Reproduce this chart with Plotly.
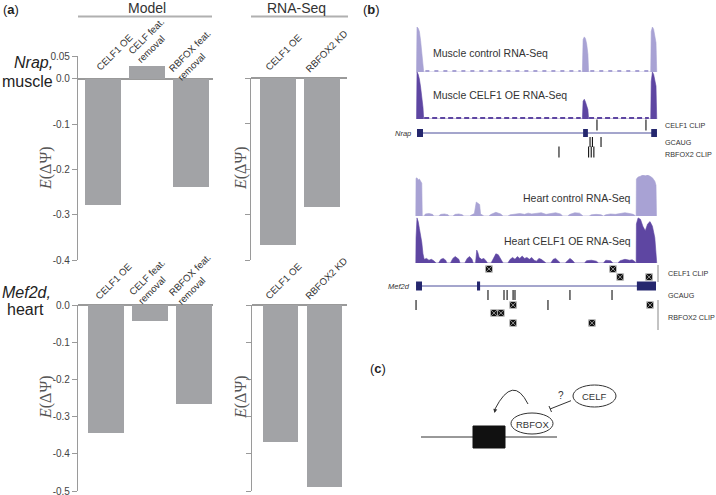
import plotly.graph_objects as go

W, H = 716, 495
def px(x): return x / W
def py(y): return 1 - y / H

# ---------------- DATA ----------------
model_categories = ["CELF1 OE", "CELF feat. removal", "RBFOX feat. removal"]
model_tick_labels = ["CELF1 OE", "CELF feat.<br>removal", "RBFOX feat.<br>removal"]
rnaseq_categories = ["CELF1 OE", "RBFOX2 KD"]
nrap_model = [-0.279, 0.027, -0.238]
nrap_rnaseq = [-0.367, -0.284]
mef2d_model = [-0.343, -0.043, -0.266]
mef2d_rnaseq = [-0.368, -0.488]
top_tick_vals = [0.05, 0.0, -0.1, -0.2, -0.3, -0.4]
top_tick_text = ["0.05", "0.0", "-0.1", "-0.2", "-0.3", "-0.4"]
bot_tick_vals = [0.0, -0.1, -0.2, -0.3, -0.4, -0.5]
bot_tick_text = ["0.0", "-0.1", "-0.2", "-0.3", "-0.4", "-0.5"]

# genome browser (gene units 0..100), coverage normalised 0..1
muscle_ctrl_pos = [-0.2, 0, 0.5, 1, 1.5, 2, 2.5, 2.8, 69.2, 69.5, 70, 70.5, 71, 71.5, 71.8, 97.8, 98, 98.5, 99, 99.5, 100, 100.3]
muscle_ctrl_val = [0, 1.0, 0.97, 0.9, 0.7, 0.45, 0.2, 0, 0, 0.72, 0.78, 0.74, 0.62, 0.4, 0, 0, 0.9, 1.0, 0.95, 0.82, 0.65, 0]
muscle_oe_pos = [-0.2, 0, 0.5, 1, 1.5, 2, 2.5, 2.8, 69.2, 69.5, 70, 70.5, 71, 71.5, 71.8, 97.8, 98, 98.5, 99, 99.5, 100, 100.3]
muscle_oe_val = [0, 1.0, 0.95, 0.85, 0.68, 0.48, 0.25, 0, 0, 0.38, 0.42, 0.36, 0.3, 0.2, 0, 0, 0.8, 1.0, 0.95, 0.85, 0.7, 0]
muscle_intron_start = [3.5, 72.5]
muscle_intron_end = [68.5, 97.0]
muscle_exon_start = [0, 69.5, 98.0]
muscle_exon_end = [2.5, 71.5, 100.4]
muscle_celf1_clip = [75.3, 95.8]
muscle_gcaug = [72.4, 73.4, 77.0]
muscle_rbfox2_clip = [59.4, 71.8, 72.9, 74.0]

heart_ctrl_pos = [-0.5, -0.4, 0, 0.5, 1, 1.5, 2, 2.2, 3, 3.5, 5, 6.5, 7, 9, 10, 11.5, 13, 13.5, 15, 16, 17.5, 19, 19.5,
                  22, 23, 24, 24.8, 25.5, 26.2, 26.6, 27.5, 28, 30, 31, 33, 35, 36, 38, 39, 41, 43, 45, 46.5, 48, 50, 52,
                  54, 56, 58, 60, 61, 63, 64, 66, 68, 69.5, 72, 73, 75, 77, 78, 79, 81, 83, 85, 87, 89, 90.5, 91.5, 91.7,
                  91.8, 92.5, 93.5, 94.5, 95.5, 96.5, 97.5, 98.5, 99.5, 100, 100.2]
heart_ctrl_val = [0, 0.92, 0.93, 0.88, 0.9, 0.85, 0.8, 0, 0, 0.05, 0.06, 0.04, 0, 0, 0.04, 0.05, 0.03, 0, 0, 0.04, 0.05, 0.03, 0,
                  0, 0.04, 0.06, 0.34, 0.3, 0.28, 0.05, 0.03, 0, 0, 0.04, 0.09, 0.05, 0, 0, 0.03, 0.05, 0.06, 0.04, 0.07, 0.05, 0.06, 0.08,
                  0.04, 0.06, 0.08, 0.05, 0, 0, 0.04, 0.08, 0.07, 0, 0, 0.03, 0.04, 0.03, 0, 0.03, 0.05, 0.04, 0.06, 0.08, 0.06, 0.04, 0, 0,
                  0.9, 0.95, 0.97, 1.0, 0.98, 1.0, 0.97, 0.93, 0.85, 0.75, 0]
heart_oe_pos = [-0.5, -0.4, 0, 0.5, 1, 1.5, 2, 2.5, 3, 4, 5, 6, 7, 8, 9, 10, 11, 12, 12.5, 14, 15, 16, 17.5, 18, 20, 21, 22, 23,
                23.5, 24.5, 25, 25.5, 26, 27, 28, 29, 29.5, 31, 32, 33, 34, 35, 36, 38, 39, 40, 41, 42, 43, 44, 45, 46, 47, 48,
                49, 50, 51, 52, 53, 54, 56, 57, 58, 59, 60, 62, 63, 64, 65, 66, 70, 71, 73, 75, 76, 78, 79, 81, 82, 84, 85, 87,
                89, 90, 91, 91.7, 91.8, 92.5, 93.5, 94.5, 95.5, 96.5, 97.5, 98.5, 99.5, 100, 100.3]
heart_oe_val = [0, 0.55, 0.98, 0.9, 0.75, 0.6, 0.45, 0.2, 0.08, 0.1, 0.06, 0.08, 0.05, 0, 0, 0.08, 0.1, 0.06, 0, 0, 0.1, 0.14, 0.08,
                0, 0, 0.1, 0.14, 0.08, 0, 0, 0.28, 0.22, 0.12, 0.08, 0.1, 0.04, 0, 0, 0.12, 0.2, 0.18, 0.1, 0, 0, 0.08, 0.12, 0.08,
                0.14, 0.1, 0.15, 0.1, 0.12, 0.08, 0.12, 0.06, 0.04, 0.1, 0.08, 0.03, 0, 0, 0.08, 0.1, 0.05, 0, 0, 0.06, 0.1, 0.06, 0,
                0, 0.05, 0.06, 0.04, 0, 0, 0.06, 0.05, 0, 0, 0.05, 0.08, 0.06, 0.07, 0.04, 0, 0.85, 0.98, 0.95, 0.8, 0.7, 0.85, 0.9,
                0.8, 0.55, 0.3, 0]
heart_exon_start = [-0.4, 25.1, 92.0]
heart_exon_end = [2.1, 26.4, 100.0]
heart_celf1_clip_pos = [30.1, 82.0, 85.0, 97.1]
heart_celf1_clip_row = [0, 0, 1, 1]
heart_gcaug = [29.7, 36.4, 37.7, 40.2, 41.0, 64.0, 81.6]
heart_rbfox2_line_pos = [-0.4, 54.8]
heart_rbfox2_box_pos = [40.2, 97.5, 32.2, 35.1, 40.2, 73.2]
heart_rbfox2_box_row = [0, 0, 1, 1, 2, 2]

# ---------------- STYLE ----------------
FONT = "Liberation Sans, Arial, sans-serif"
BAR = "#a2a3a6"
AX = "#9a9a9a"
LIGHT = "#a8a2d4"
DARK = "#5e46a2"
NAVY = "#25276e"
GENE_LINE = "#4b4c9a"

fig = go.Figure()

def bars(cats, vals, xa, ya):
    fig.add_trace(go.Bar(x=cats, y=vals, xaxis=xa, yaxis=ya, width=0.8,
                         marker=dict(color=BAR, line=dict(width=0)), showlegend=False,
                         hoverinfo="skip"))

bars(model_categories, nrap_model, "x", "y")
bars(rnaseq_categories, nrap_rnaseq, "x2", "y2")
bars(model_categories, mef2d_model, "x3", "y3")
bars(rnaseq_categories, mef2d_rnaseq, "x4", "y4")

def cat_axis(dom, rng, cats, anchor):
    return dict(domain=[px(dom[0]), px(dom[1])], range=rng, type="category",
                categoryorder="array", categoryarray=cats, anchor=anchor, visible=False,
                showgrid=False, zeroline=False, fixedrange=True, automargin=False)

def val_axis(dom, rng, anchor, tv, tt, labels=True):
    return dict(domain=[py(dom[1]), py(dom[0])], range=rng, anchor=anchor,
                tickvals=tv, ticktext=tt, showticklabels=labels, ticks="outside",
                ticklen=5, tickcolor=AX, tickwidth=1, showline=True, linecolor=AX,
                linewidth=1.2, zeroline=True, zerolinecolor=AX, zerolinewidth=1.5,
                showgrid=False, tickfont=dict(family=FONT, size=10, color="#444"),
                ticklabeloverflow="allow", fixedrange=True, automargin=False)

layout = dict(
    template="none",
    width=W, height=H, margin=dict(l=0, r=0, t=0, b=0, pad=0), autosize=False,
    paper_bgcolor="white", plot_bgcolor="rgba(0,0,0,0)", showlegend=False,
    bargap=0,
    xaxis=cat_axis((78, 213), [-0.568, 2.5], model_categories, "y"),
    yaxis=val_axis((56, 260), [-0.4, 0.05], "x", top_tick_vals, top_tick_text),
    xaxis2=cat_axis((251, 347), [-0.614, 1.568], rnaseq_categories, "y2"),
    yaxis2=val_axis((78, 260), [-0.4, 0.0], "x2", top_tick_vals[1:], top_tick_text[1:], False),
    xaxis3=cat_axis((78, 213), [-0.636, 2.43], model_categories, "y3"),
    yaxis3=val_axis((305, 491), [-0.5, 0.0], "x3", bot_tick_vals, bot_tick_text),
    xaxis4=cat_axis((252, 347), [-0.648, 1.51], rnaseq_categories, "y4"),
    yaxis4=val_axis((305, 491), [-0.5, 0.0], "x4", bot_tick_vals, bot_tick_text, False),
)

# genome browser axes
S = 2.39  # px per gene unit
X0 = 417
hid = dict(visible=False, fixedrange=True, showgrid=False, zeroline=False, automargin=False)
layout["xaxis5"] = dict(domain=[px(380), px(716)], range=[(380 - X0) / S, (716 - X0) / S], anchor="y9", **hid)
layout["yaxis5"] = dict(domain=[py(72), py(27)], range=[0, 1], anchor="x5", **hid)
layout["yaxis6"] = dict(domain=[py(119), py(72)], range=[0, 1], anchor="x5", **hid)
layout["yaxis7"] = dict(domain=[py(216), py(175)], range=[0, 1], anchor="x5", **hid)
layout["yaxis8"] = dict(domain=[py(263), py(217)], range=[0, 1], anchor="x5", **hid)
layout["yaxis9"] = dict(domain=[py(335), py(0)], range=[335, 0], anchor="x5", **hid)

def coverage(pos, val, ya, color):
    fig.add_trace(go.Scatter(x=pos, y=val, xaxis="x5", yaxis=ya, mode="lines", fill="tozeroy",
                             fillcolor=color, line=dict(color=color, width=0.6), hoverinfo="skip",
                             showlegend=False))

coverage(muscle_ctrl_pos, muscle_ctrl_val, "y5", LIGHT)
coverage(muscle_oe_pos, muscle_oe_val, "y6", DARK)
coverage(heart_ctrl_pos, heart_ctrl_val, "y7", LIGHT)
coverage(heart_oe_pos, heart_oe_val, "y8", DARK)

for s, e in zip(muscle_intron_start, muscle_intron_end):
    fig.add_trace(go.Scatter(x=[s, e], y=[0.02, 0.02], xaxis="x5", yaxis="y5", mode="lines",
                             line=dict(color=LIGHT, width=2, dash="4px,5px"), hoverinfo="skip", showlegend=False))
    fig.add_trace(go.Scatter(x=[s - 0.5, e], y=[0.02, 0.02], xaxis="x5", yaxis="y6", mode="lines",
                             line=dict(color=DARK, width=2, dash="5px,3px"), hoverinfo="skip", showlegend=False))

# rows (layout positions, pixel rows on yaxis9)
ROW_M = dict(celf=125, gene=133, gcaug=142, rbfox=152)
ROW_H_CELF = [269, 277]
ROW_H_GENE = 286
ROW_H_GCAUG = 295
ROW_H_RBFOX = [305, 313, 323]

def ticks(xs, ys, size=7):
    fig.add_trace(go.Scatter(x=xs, y=ys, xaxis="x5", yaxis="y9", mode="markers",
                             marker=dict(symbol="line-ns", size=size, line=dict(color="#111", width=1.1)),
                             hoverinfo="skip", showlegend=False))

def boxes(xs, ys):
    fig.add_trace(go.Scatter(x=xs, y=ys, xaxis="x5", yaxis="y9", mode="markers",
                             marker=dict(symbol="square-x", size=7, color="#111",
                                         line=dict(color="#dddddd", width=0.6)),
                             hoverinfo="skip", showlegend=False))

shapes = []
# muscle
ticks(muscle_celf1_clip, [ROW_M["celf"]] * len(muscle_celf1_clip), 8)
ticks(muscle_gcaug, [ROW_M["gcaug"]] * len(muscle_gcaug))
ticks(muscle_rbfox2_clip, [ROW_M["rbfox"]] * len(muscle_rbfox2_clip), 8)
shapes.append(dict(type="line", xref="x5", yref="y9", x0=min(muscle_exon_start), x1=max(muscle_exon_end),
                   y0=ROW_M["gene"], y1=ROW_M["gene"], line=dict(color=GENE_LINE, width=1)))
for s, e in zip(muscle_exon_start, muscle_exon_end):
    shapes.append(dict(type="rect", xref="x5", yref="y9", x0=s, x1=e, y0=ROW_M["gene"] - 4,
                       y1=ROW_M["gene"] + 4, fillcolor=NAVY, line=dict(width=0)))
# heart
boxes(heart_celf1_clip_pos, [ROW_H_CELF[r] for r in heart_celf1_clip_row])
ticks(heart_gcaug, [ROW_H_GCAUG] * len(heart_gcaug))
ticks(heart_rbfox2_line_pos, [ROW_H_RBFOX[0]] * len(heart_rbfox2_line_pos))
boxes(heart_rbfox2_box_pos, [ROW_H_RBFOX[r] for r in heart_rbfox2_box_row])
shapes.append(dict(type="line", xref="x5", yref="y9", x0=min(heart_exon_start), x1=max(heart_exon_end),
                   y0=ROW_H_GENE, y1=ROW_H_GENE, line=dict(color=GENE_LINE, width=1)))
for s, e in zip(heart_exon_start, heart_exon_end):
    shapes.append(dict(type="rect", xref="x5", yref="y9", x0=s, x1=e, y0=ROW_H_GENE - 4.5,
                       y1=ROW_H_GENE + 4.5, fillcolor=NAVY, line=dict(width=0)))
BR = (658 - X0) / S
shapes.append(dict(type="line", xref="x5", yref="y9", x0=BR, x1=BR, y0=265, y1=282, line=dict(color="#888", width=1)))
shapes.append(dict(type="line", xref="x5", yref="y9", x0=BR, x1=BR, y0=300, y1=330, line=dict(color="#888", width=1)))

# headers
shapes.append(dict(type="line", xref="paper", yref="paper", x0=px(78), x1=px(212), y0=py(16.5), y1=py(16.5),
                   line=dict(color="#b0b0b0", width=2)))
shapes.append(dict(type="line", xref="paper", yref="paper", x0=px(251), x1=px(348), y0=py(16.5), y1=py(16.5),
                   line=dict(color="#b0b0b0", width=2)))

# panel c diagram
shapes.append(dict(type="line", xref="paper", yref="paper", x0=px(421), x1=px(557), y0=py(437), y1=py(437),
                   line=dict(color="#333", width=1)))
shapes.append(dict(type="rect", xref="paper", yref="paper", x0=px(473), x1=px(505), y0=py(448), y1=py(426),
                   fillcolor="#111", line=dict(color="#111", width=1)))
shapes.append(dict(type="circle", xref="paper", yref="paper", x0=px(511), x1=px(553), y0=py(434), y1=py(413),
                   fillcolor="white", line=dict(color="#333", width=1)))
shapes.append(dict(type="circle", xref="paper", yref="paper", x0=px(573), x1=px(616), y0=py(407), y1=py(385),
                   fillcolor="white", line=dict(color="#333", width=1)))
shapes.append(dict(type="line", xref="paper", yref="paper", x0=px(550), x1=px(571), y0=py(409), y1=py(400.7),
                   line=dict(color="#333", width=1)))
shapes.append(dict(type="line", xref="paper", yref="paper", x0=px(549), x1=px(551.5), y0=py(406), y1=py(412),
                   line=dict(color="#333", width=1)))
shapes.append(dict(type="path", xref="paper", yref="paper",
                   path=f"M {px(528)},{py(404)} Q {px(513)},{py(374)} {px(495)},{py(409)}",
                   line=dict(color="#333", width=1)))

layout["shapes"] = shapes

ann = []
def A(x, y, text, size=11, anchor="center", color="#222", family=FONT, angle=0, yanchor="middle",
      xref="paper", yref="paper", align="center"):
    ann.append(dict(x=x, y=y, xref=xref, yref=yref, text=text, showarrow=False, xanchor=anchor, yanchor=yanchor,
                    textangle=angle, align=align, font=dict(size=size, color=color, family=family)))

# rotated category labels (centres of label boxes, px)
model_label_centres_top = [(114, 52), (150.5, 41), (193.5, 55.5)]
rnaseq_label_centres_top = [(283, 52), (326, 51)]
model_label_centres_bot = [(113, 281), (151, 281), (193.5, 279.5)]
rnaseq_label_centres_bot = [(282.5, 281), (326, 278.5)]
for labels, centres in [(model_tick_labels, model_label_centres_top), (rnaseq_categories, rnaseq_label_centres_top),
                        (model_tick_labels, model_label_centres_bot), (rnaseq_categories, rnaseq_label_centres_bot)]:
    for lab, (cx, cy) in zip(labels, centres):
        A(px(cx), py(cy), lab, 9.6, color="#333", angle=-45, align="left")

A(px(1), py(9), "(<b>a</b>)", 13, "left")
A(px(372), py(9), "(<b>b</b>)", 13)
A(px(378), py(368), "(<b>c</b>)", 13)
A(px(147), py(8), "Model", 14, color="#333")
A(px(296), py(8), "RNA-Seq", 14, color="#333")
A(px(33), py(62), "<i>Nrap,</i>", 16)
A(px(27), py(82), "muscle", 16)
A(px(26), py(292), "<i>Mef2d,</i>", 16)
A(px(25), py(309), "heart", 16)
SER = "Liberation Serif, Times New Roman, serif"
for xx, yy in [(46, 168), (241, 168), (46, 397), (241, 397)]:
    A(px(xx), py(yy), "<i>E</i>(ΔΨ)", 16, color="#555", family=SER, angle=-90)

# panel b labels
def BA(xpx, ypx, text, size=7.2, anchor="left", italic=False):
    A((xpx - X0) / S, ypx, f"<i>{text}</i>" if italic else text, size, anchor, "#333", xref="x5", yref="y9")

BA(431, 53, "Muscle control RNA-Seq", 10.5)
BA(431, 95, "Muscle CELF1 OE RNA-Seq", 10.5)
BA(633, 198, "Heart control RNA-Seq", 10.5, "right")
BA(633, 241, "Heart CELF1 OE RNA-Seq", 10.5, "right")
BA(663, 125, "CELF1 CLIP")
BA(663, 142, "GCAUG")
BA(663, 154, "RBFOX2 CLIP")
BA(666, 273, "CELF1 CLIP")
BA(666, 295, "GCAUG")
BA(666, 317, "RBFOX2 CLIP")
BA(413, 133, "Nrap", 7.5, "right", True)
BA(412, 286, "Mef2d", 7.5, "right", True)

# panel c text
A(px(532), py(424), "RBFOX", 9.5, color="#333")
A(px(594), py(396), "CELF", 9.5, color="#333")
A(px(561), py(395), "?", 10, color="#333")
ann.append(dict(x=px(494.5), y=py(413), xref="paper", yref="paper", text="", showarrow=True,
                ax=1, ay=-5, arrowhead=2, arrowsize=0.8, arrowwidth=1, arrowcolor="#333"))

layout["annotations"] = ann
fig.update_layout(**layout)
fig.write_html("out.html", config={"displayModeBar": False, "responsive": False},
               post_script="document.body.style.margin='0';document.body.style.padding='0';"
                           "document.documentElement.style.overflow='hidden';")
